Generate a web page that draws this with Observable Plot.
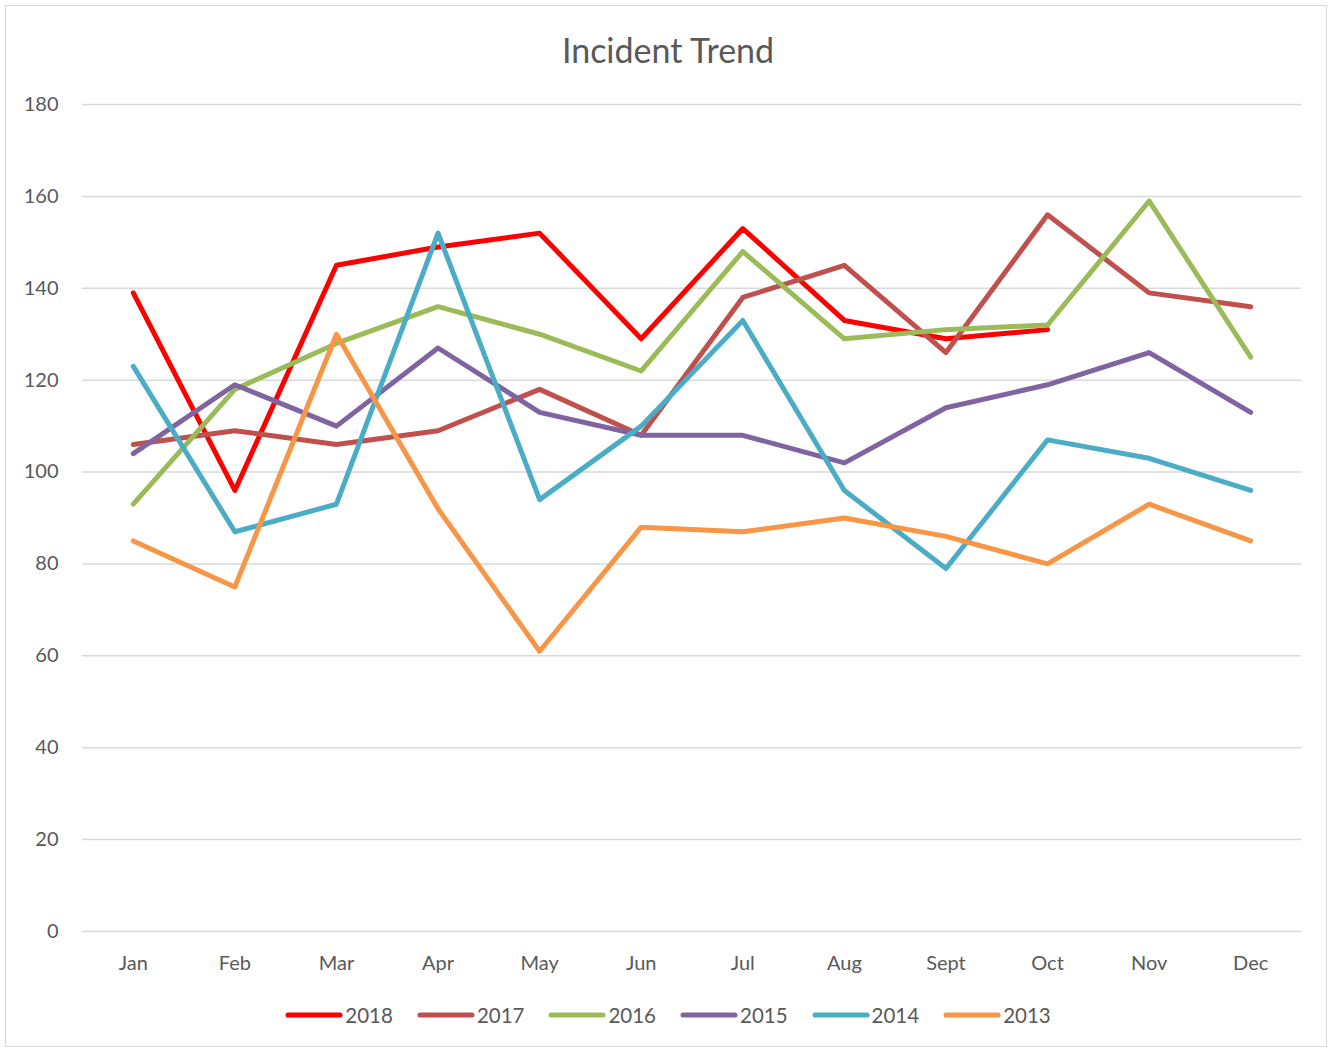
<!DOCTYPE html>
<html>
<head>
<meta charset="utf-8">
<script src="https://cdn.jsdelivr.net/npm/d3@7"></script>
<script src="https://cdn.jsdelivr.net/npm/@observablehq/plot@0.6"></script>
<style>
  body { margin: 0; background: #fff; }
  #page { position: relative; width: 1331px; height: 1050px; overflow: hidden; font-family: Lato, "Open Sans", sans-serif; color: #595959; }
  #frame { position: absolute; left: 5px; top: 5px; width: 1322px; height: 1042px; border: 1.5px solid #d9d9d9; box-sizing: border-box; pointer-events: none; }
  #title { position: absolute; left: 0; width: 1331px; top: 29px; text-align: center; font-size: 34px; line-height: 42px; padding-left: 5px; box-sizing: border-box; }
  #chart { position: absolute; left: 0; top: 80px; }
  #legend { position: absolute; left: 0; width: 1331px; top: 1003px; display: flex; justify-content: center; padding-left: 5px; box-sizing: border-box; }
  .item { display: flex; align-items: center; margin: 0 12px; font-size: 20.5px; }
  .item svg { margin-right: 2px; }
</style>
</head>
<body>
<div id="page">
  <div id="frame"></div>
  <div id="title">Incident Trend</div>
  <div id="chart"></div>
  <div id="legend"></div>
</div>
<script>
const months = ["Jan","Feb","Mar","Apr","May","Jun","Jul","Aug","Sept","Oct","Nov","Dec"];
const years = ["2018","2017","2016","2015","2014","2013"];
const colors = ["#ff0000","#c0504d","#9bbb59","#8064a2","#4bacc6","#f79646"];
const yTicks = [0,20,40,60,80,100,120,140,160,180];

const v2018 = [139, 96, 145, 149, 152, 129, 153, 133, 129, 131, null, null];
const v2017 = [106, 109, 106, 109, 118, 108, 138, 145, 126, 156, 139, 136];
const v2016 = [93, 118, 128, 136, 130, 122, 148, 129, 131, 132, 159, 125];
const v2015 = [104, 119, 110, 127, 113, 108, 108, 102, 114, 119, 126, 113];
const v2014 = [123, 87, 93, 152, 94, 110, 133, 96, 79, 107, 103, 96];
const v2013 = [85, 75, 130, 92, 61, 88, 87, 90, 86, 80, 93, 85];

const series = [v2018, v2017, v2016, v2015, v2014, v2013];
const rows = [];
series.forEach((vals, i) => {
  vals.forEach((v, j) => {
    if (v != null) rows.push({year: years[i], month: months[j], value: v});
  });
});

const chart = Plot.plot({
  width: 1331,
  height: 910,
  marginTop: 24,
  marginBottom: 59,
  marginLeft: 82,
  marginRight: 30,
  style: { fontFamily: "Lato, 'Open Sans', sans-serif", fontSize: "20px", color: "#595959", background: "transparent" },
  x: { type: "point", domain: months, padding: 0.5, round: false, label: null },
  y: { domain: [0, 180], label: null },
  color: { domain: years, range: colors },
  marks: [
    Plot.gridY(yTicks, { stroke: "#d9d9d9", strokeOpacity: 1, strokeWidth: 1.5 }),
    Plot.axisY(yTicks, { tickSize: 0, tickPadding: 24, label: null, fontSize: 20 }),
    Plot.axisX(months, { tickSize: 0, tickPadding: 24, label: null, fontSize: 20 }),
    Plot.line(rows, { x: "month", y: "value", z: "year", stroke: "year", strokeWidth: 5, strokeLinejoin: "round", strokeLinecap: "round" })
  ]
});
document.getElementById("chart").appendChild(chart);

const legend = document.getElementById("legend");
years.forEach((y, i) => {
  const item = document.createElement("div");
  item.className = "item";
  item.innerHTML = `<svg width="58" height="10"><line x1="3" y1="5" x2="55" y2="5" stroke="${colors[i]}" stroke-width="5" stroke-linecap="round"/></svg><span>${y}</span>`;
  legend.appendChild(item);
});
</script>
</body>
</html>
